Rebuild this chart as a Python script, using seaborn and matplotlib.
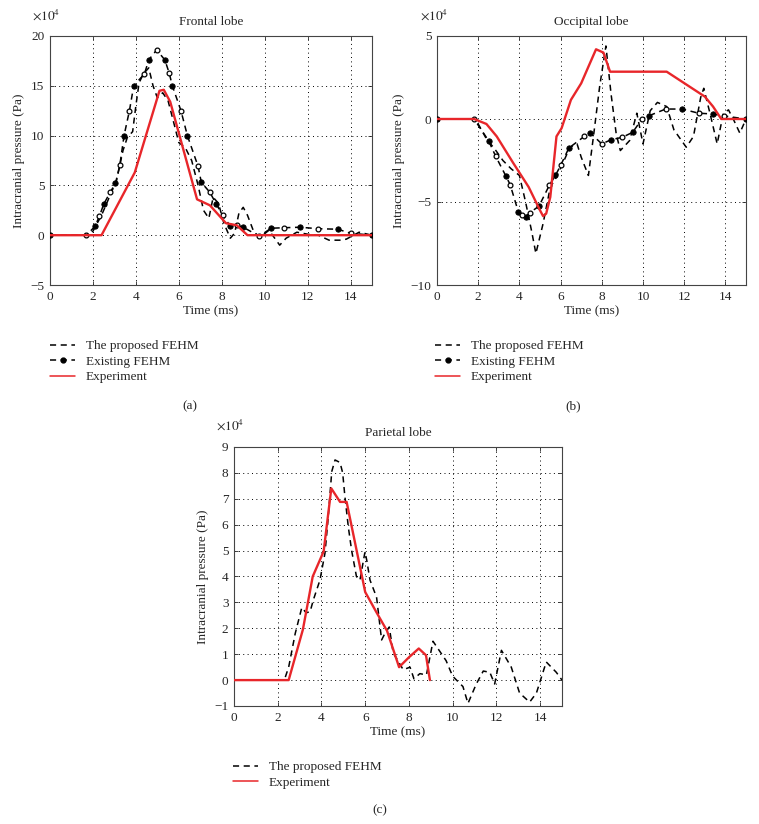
import numpy as np
import pandas as pd
import matplotlib
matplotlib.use('Agg')
from matplotlib import pyplot as plt
from matplotlib.lines import Line2D
import seaborn as sns

sns.set_style('ticks')
plt.rcParams['font.family'] = ['Liberation Serif', 'DejaVu Serif']
plt.rcParams['mathtext.fontset'] = 'stix'

# ---- data (pressure in units of 1e4 Pa, time in ms) ----
# (a) Frontal lobe
fr_prop_t = [0, 1.7, 2.0, 2.4, 2.8, 3.1, 3.4, 3.6, 3.85, 4.0, 4.15, 4.35, 4.6, 4.8, 5.0, 5.25,
             5.5, 5.8, 6.0, 6.3, 6.6, 6.9, 7.15, 7.4, 7.6, 7.85, 8.1, 8.4, 8.6, 8.8, 9.0, 9.2,
             9.5, 9.8, 10.2, 10.7, 11.0, 11.5, 12.0, 12.5, 13.0, 13.5, 13.8, 14.4, 15]
fr_prop_v = [0, 0, 0.4, 2.0, 4.0, 5.5, 8.5, 9.8, 10.4, 13.0, 15.3, 16.2, 16.8, 15.0, 13.8, 14.3,
             13.5, 11.0, 9.3, 8.8, 7.5, 5.0, 2.5, 1.7, 3.8, 3.2, 1.2, -0.3, 0.2, 2.2, 2.8, 2.0,
             0.3, -0.2, 0.5, -1.0, -0.3, 0.3, 0.1, 0.0, -0.5, -0.5, -0.4, 0.3, 0.0]
fr_exist_t = [0, 1.7, 2.1, 2.3, 2.5, 2.8, 3.05, 3.25, 3.45, 3.7, 3.9, 4.4, 4.6, 4.97, 5.35,
              5.55, 5.7, 6.1, 6.4, 6.9, 7.05, 7.45, 7.75, 8.05, 8.4, 8.7, 9.0, 9.75, 10.3,
              10.9, 11.65, 12.5, 13.4, 14.0, 15]
fr_exist_v = [0, 0, 0.9, 1.9, 3.1, 4.3, 5.2, 7.0, 10.0, 12.5, 15.0, 16.2, 17.6, 18.6, 17.6,
              16.3, 15.0, 12.5, 10.0, 6.9, 5.3, 4.3, 3.1, 2.0, 0.9, 1.0, 0.8, -0.1, 0.7,
              0.75, 0.8, 0.65, 0.6, 0.2, 0]
fr_exp_t = [0, 2.4, 3.95, 5.1, 5.3, 5.6, 6.85, 7.45, 8.2, 8.7, 9.2, 15]
fr_exp_v = [0, 0, 6.3, 14.5, 14.6, 13.4, 3.6, 3.0, 1.2, 1.0, 0, 0]

# (b) Occipital lobe
oc_prop_t = [0, 1.8, 2.0, 2.4, 2.8, 3.2, 3.6, 4.0, 4.3, 4.6, 4.8, 5.15, 5.5, 5.8, 6.1, 6.45,
             6.8, 7.0, 7.35, 7.6, 7.9, 8.2, 8.45, 8.7, 8.9, 9.35, 9.7, 10.0, 10.35, 10.7,
             11.15, 11.5, 12.1, 12.45, 12.8, 12.95, 13.25, 13.6, 13.9, 14.15, 14.4, 14.7, 15]
oc_prop_v = [0, 0, -0.3, -1.2, -1.8, -2.5, -3.0, -3.4, -5.0, -6.8, -8.1, -6.3, -4.1, -3.5,
             -2.7, -1.7, -1.5, -2.3, -3.4, -1.0, 2.0, 4.4, 1.5, -0.9, -1.9, -1.3, 0.35, -1.5,
             0.5, 1.0, 0.75, -0.65, -1.7, -1.05, 1.3, 1.85, 0.35, -1.5, 0.35, 0.55, -0.05,
             -0.85, 0]
oc_exist_t = [0, 1.8, 2.5, 2.85, 3.35, 3.55, 3.95, 4.15, 4.3, 4.5, 4.95, 5.45, 5.75, 6.0,
              6.4, 7.15, 7.45, 8.0, 8.45, 9.0, 9.5, 9.95, 10.3, 11.1, 11.9, 12.7, 13.4,
              13.95, 15]
oc_exist_v = [0, 0, -1.3, -2.25, -3.45, -3.95, -5.6, -5.8, -5.9, -5.65, -5.25, -4.0, -3.4,
              -2.8, -1.75, -1.05, -0.85, -1.5, -1.25, -1.1, -0.8, 0.0, 0.2, 0.6, 0.6, 0.35,
              0.3, 0.18, 0]
oc_exp_t = [0, 1.8, 2.4, 2.9, 3.7, 4.45, 5.0, 5.15, 5.3, 5.5, 5.8, 6.05, 6.5, 7.0, 7.35,
            7.72, 8.08, 8.4, 11.15, 13.0, 13.4, 13.8, 15]
oc_exp_v = [0, 0, -0.3, -1.05, -2.65, -4.1, -5.5, -5.85, -5.7, -4.7, -1.05, -0.55, 1.15,
            2.15, 3.15, 4.2, 4.0, 2.85, 2.85, 1.35, 0.75, 0, 0]

# (c) Parietal lobe
pa_prop_t = [0, 2.3, 2.5, 2.8, 3.1, 3.3, 3.48, 3.63, 3.93, 4.16, 4.3, 4.47, 4.62, 4.85,
             4.97, 5.07, 5.23, 5.38, 5.6, 5.76, 5.99, 6.07, 6.22, 6.52, 6.75, 6.9, 7.1,
             7.28, 7.74, 8.05, 8.23, 8.5, 8.8, 9.1, 9.7, 10.0, 10.47, 10.7, 11.08, 11.4,
             11.7, 11.92, 12.23, 12.68, 13.06, 13.52, 13.83, 14.28, 14.74, 15]
pa_prop_v = [0, 0, 0.5, 1.8, 2.8, 2.6, 2.64, 3.1, 3.86, 4.9, 6.2, 8.05, 8.5, 8.4, 8.0, 7.1,
             5.9, 5.0, 4.0, 3.86, 4.95, 4.63, 3.86, 3.2, 1.55, 1.8, 2.05, 1.05, 0.4, 0.5,
             0.05, 0.25, 0.2, 1.5, 0.75, 0.15, -0.25, -0.9, -0.15, 0.35, 0.3, -0.15, 1.15,
             0.5, -0.5, -0.85, -0.5, 0.7, 0.3, 0]
pa_exp_t = [0, 2.5, 3.15, 3.6, 4.1, 4.45, 4.85, 5.15, 6.0, 6.5, 7.0, 7.55, 8.0, 8.45, 8.78,
            8.96]
pa_exp_v = [0, 0, 1.95, 4.0, 4.97, 7.4, 6.88, 6.88, 3.4, 2.64, 1.9, 0.5, 0.88, 1.22, 0.96, 0]

panels = [
    dict(title='Frontal lobe', tag='(a)', ylim=(-5, 20), yticks=np.arange(-5, 21, 5),
         prop=(fr_prop_t, fr_prop_v), exist=(fr_exist_t, fr_exist_v), exp=(fr_exp_t, fr_exp_v),
         rect=[50, 36, 372, 285], leg=(50, 340), tagpos=(190, 406)),
    dict(title='Occipital lobe', tag='(b)', ylim=(-10, 5), yticks=np.arange(-10, 6, 5),
         prop=(oc_prop_t, oc_prop_v), exist=(oc_exist_t, oc_exist_v), exp=(oc_exp_t, oc_exp_v),
         rect=[437, 36, 746, 285], leg=(435, 340), tagpos=(573, 406)),
    dict(title='Parietal lobe', tag='(c)', ylim=(-1, 9), yticks=np.arange(-1, 10, 1),
         prop=(pa_prop_t, pa_prop_v), exist=None, exp=(pa_exp_t, pa_exp_v),
         rect=[234, 447, 562, 706], leg=(233, 761), tagpos=(380, 810)),
]

W, H = 759, 824
fig = plt.figure(figsize=(W / 100, H / 100), dpi=100)
FS = 9.5
dash = (0, (4, 3))
red = '#e8262a'

for p in panels:
    l, t, r, b = p['rect']
    ax = fig.add_axes([l / W, 1 - b / H, (r - l) / W, (b - t) / H])

    df = pd.DataFrame({'t': p['prop'][0], 'v': p['prop'][1]})
    sns.lineplot(data=df, x='t', y='v', ax=ax, color='black', lw=1.1,
                 linestyle=dash, estimator=None, sort=False)
    handles = [Line2D([], [], color='black', lw=1.1, linestyle=dash)]
    labels = ['The proposed FEHM']

    if p['exist'] is not None:
        de = pd.DataFrame({'t': p['exist'][0], 'v': p['exist'][1]})
        sns.lineplot(data=de, x='t', y='v', ax=ax, color='black', lw=1.1,
                     linestyle=dash, estimator=None, sort=False)
        filled = de.iloc[::2]
        hollow = de.iloc[1::2]
        sns.scatterplot(data=filled, x='t', y='v', ax=ax, color='black', s=15,
                        edgecolor='black', linewidth=0.6, zorder=4)
        sns.scatterplot(data=hollow, x='t', y='v', ax=ax, facecolor='white', s=12,
                        edgecolor='black', linewidth=0.9, zorder=4)
        handles.append(Line2D([], [], color='black', lw=1.1, linestyle=dash,
                              marker='o', markersize=3.5))
        labels.append('Existing FEHM')

    dx = pd.DataFrame({'t': p['exp'][0], 'v': p['exp'][1]})
    sns.lineplot(data=dx, x='t', y='v', ax=ax, color=red, lw=1.7,
                 estimator=None, sort=False, zorder=5)
    handles.append(Line2D([], [], color=red, lw=1.1))
    labels.append('Experiment')

    ax.set_xlim(0, 15)
    ax.set_ylim(*p['ylim'])
    ax.set_xticks(np.arange(0, 15, 2))
    ax.set_yticks(p['yticks'])
    ax.grid(True, color='black', linestyle=(0, (1, 3.5)), linewidth=0.7)
    ax.tick_params(direction='in', length=3, width=0.6, top=True, right=True,
                   labelsize=FS, pad=4)
    for s in ax.spines.values():
        s.set_color('#444444')
        s.set_linewidth(0.8)
    ax.set_xlabel('Time (ms)', fontsize=FS, labelpad=2)
    ax.set_ylabel('Intracranial pressure (Pa)', fontsize=FS, labelpad=4)
    ax.set_title(p['title'], fontsize=FS, pad=8)
    ax.text(-0.055, 1.055, r'$\times10^4$', transform=ax.transAxes, fontsize=FS,
            ha='left', va='bottom')

    lx, ly = p['leg']
    ax.legend(handles, labels, loc='upper left', bbox_to_anchor=(lx / W, 1 - ly / H),
              bbox_transform=fig.transFigure, frameon=False, fontsize=FS,
              borderpad=0, borderaxespad=0, handlelength=1.9, handletextpad=0.8,
              labelspacing=0.25)
    fig.text(p['tagpos'][0] / W, 1 - p['tagpos'][1] / H, p['tag'], fontsize=FS,
             ha='center', va='center')

plt.savefig('out.png', dpi=100)
